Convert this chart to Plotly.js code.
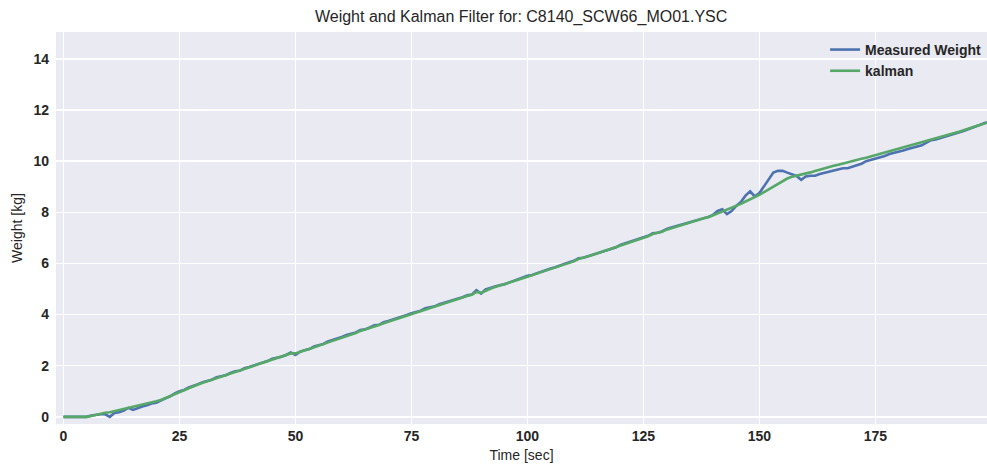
<!DOCTYPE html>
<html>
<head>
<meta charset="utf-8">
<script src="https://cdn.plot.ly/plotly-3.0.1.min.js"></script>
<style>html,body{margin:0;padding:0;background:#fff;}#chart{width:987px;height:465px;}</style>
</head>
<body>
<div id="chart"></div>
<script>
const timeSec = Array.from({length: 200}, (_, i) => i);

const measuredWeight = [
  0, 0, 0, 0, 0, 0, 0.05, 0.08, 0.10, 0.10,
  0.00, 0.15, 0.18, 0.25, 0.35, 0.27, 0.35, 0.40, 0.45, 0.52,
  0.55, 0.65, 0.72, 0.80, 0.92, 1.00, 1.05, 1.15, 1.23, 1.28,
  1.35, 1.40, 1.45, 1.55, 1.58, 1.63, 1.72, 1.78, 1.80, 1.90,
  1.95, 2.00, 2.08, 2.10, 2.18, 2.27, 2.30, 2.35, 2.42, 2.52,
  2.42, 2.55, 2.60, 2.65, 2.75, 2.80, 2.85, 2.95, 3.00, 3.05,
  3.12, 3.20, 3.25, 3.30, 3.40, 3.42, 3.50, 3.58, 3.60, 3.70,
  3.75, 3.80, 3.88, 3.92, 3.98, 4.05, 4.10, 4.15, 4.25, 4.28,
  4.32, 4.40, 4.45, 4.50, 4.58, 4.62, 4.68, 4.75, 4.78, 4.95,
  4.82, 4.98, 5.05, 5.10, 5.15, 5.18, 5.25, 5.32, 5.38, 5.45,
  5.52, 5.55, 5.62, 5.68, 5.75, 5.80, 5.85, 5.92, 6.00, 6.05,
  6.10, 6.20, 6.22, 6.28, 6.35, 6.40, 6.45, 6.52, 6.58, 6.62,
  6.72, 6.78, 6.82, 6.90, 6.95, 7.00, 7.08, 7.18, 7.20, 7.25,
  7.35, 7.40, 7.45, 7.52, 7.55, 7.62, 7.68, 7.72, 7.78, 7.82,
  7.90, 8.05, 8.12, 7.93, 8.05, 8.25, 8.40, 8.65, 8.82, 8.62,
  8.75, 9.00, 9.27, 9.55, 9.62, 9.62, 9.55, 9.47, 9.42, 9.27,
  9.40, 9.43, 9.43, 9.50, 9.55, 9.60, 9.65, 9.68, 9.72, 9.72,
  9.78, 9.85, 9.90, 10.00, 10.05, 10.08, 10.12, 10.20, 10.28, 10.32,
  10.38, 10.42, 10.47, 10.52, 10.58, 10.62, 10.72, 10.82, 10.85, 10.90,
  10.95, 11.00, 11.08, 11.13, 11.18, 11.25, 11.30, 11.38, 11.45, 11.52
];

const kalmanWeight = [
  0, 0, 0, 0, 0, 0, 0.03, 0.08, 0.12, 0.16,
  0.18, 0.22, 0.26, 0.31, 0.37, 0.40, 0.44, 0.48, 0.52, 0.56,
  0.61, 0.66, 0.73, 0.80, 0.89, 0.97, 1.04, 1.12, 1.20, 1.26,
  1.33, 1.39, 1.45, 1.52, 1.58, 1.64, 1.71, 1.77, 1.82, 1.89,
  1.95, 2.00, 2.07, 2.11, 2.18, 2.25, 2.30, 2.35, 2.42, 2.48,
  2.48, 2.55, 2.60, 2.65, 2.72, 2.78, 2.83, 2.91, 2.97, 3.03,
  3.09, 3.16, 3.22, 3.28, 3.36, 3.41, 3.47, 3.54, 3.59, 3.66,
  3.72, 3.78, 3.85, 3.90, 3.96, 4.02, 4.08, 4.13, 4.21, 4.26,
  4.31, 4.38, 4.43, 4.49, 4.56, 4.61, 4.67, 4.73, 4.77, 4.88,
  4.85, 4.94, 5.01, 5.08, 5.13, 5.17, 5.23, 5.30, 5.36, 5.43,
  5.49, 5.54, 5.60, 5.66, 5.73, 5.78, 5.84, 5.90, 5.97, 6.03,
  6.08, 6.17, 6.21, 6.27, 6.33, 6.39, 6.44, 6.51, 6.57, 6.61,
  6.69, 6.76, 6.81, 6.88, 6.94, 6.99, 7.06, 7.15, 7.19, 7.24,
  7.32, 7.38, 7.44, 7.50, 7.55, 7.61, 7.67, 7.71, 7.77, 7.81,
  7.88, 7.97, 8.04, 8.10, 8.17, 8.25, 8.33, 8.42, 8.50, 8.59,
  8.68, 8.79, 8.90, 9.02, 9.13, 9.24, 9.32, 9.39, 9.44, 9.48,
  9.52, 9.56, 9.61, 9.67, 9.72, 9.77, 9.82, 9.86, 9.91, 9.95,
  10.00, 10.04, 10.09, 10.13, 10.18, 10.22, 10.27, 10.32, 10.37, 10.42,
  10.47, 10.52, 10.57, 10.62, 10.67, 10.72, 10.78, 10.84, 10.89, 10.94,
  10.99, 11.04, 11.10, 11.15, 11.21, 11.27, 11.32, 11.38, 11.44, 11.50
];

const xTicks = [0, 25, 50, 75, 100, 125, 150, 175];
const yTicks = [0, 2, 4, 6, 8, 10, 12, 14];

const FONT = '"Liberation Sans", Arial, sans-serif';
const TXT = '#262626';

const traces = [
  {x: timeSec, y: measuredWeight, name: 'Measured Weight', type: 'scatter', mode: 'lines',
   line: {color: '#4C72B0', width: 2.6}},
  {x: timeSec, y: kalmanWeight, name: 'kalman', type: 'scatter', mode: 'lines',
   line: {color: '#55A868', width: 2.6}}
];

const layout = {
  width: 987, height: 465,
  margin: {l: 56, r: 0, t: 32, b: 41, pad: 0},
  paper_bgcolor: '#ffffff',
  plot_bgcolor: '#EAEAF2',
  font: {family: FONT, color: TXT},
  title: {text: 'Weight and Kalman Filter for: C8140_SCW66_MO01.YSC',
          font: {family: FONT, size: 16, color: TXT}, x: 0.528, xanchor: 'center', y: 0.965, yanchor: 'middle'},
  xaxis: {
    range: [-1.6, 199.05], tickvals: xTicks, ticktext: xTicks.map(String),
    showgrid: true, gridcolor: '#ffffff', gridwidth: 1.4, zeroline: false, showline: false,
    ticks: '', ticklabelstandoff: 2, tickfont: {family: FONT, size: 14, color: TXT, weight: 'bold'},
    title: {text: 'Time [sec]', font: {family: FONT, size: 14, color: TXT}, standoff: 7}
  },
  yaxis: {
    range: [-0.28, 15.05], tickvals: yTicks, ticktext: yTicks.map(String),
    showgrid: true, gridcolor: '#ffffff', gridwidth: 1.4, zeroline: false, showline: false,
    ticks: '', ticklabelstandoff: 6, tickfont: {family: FONT, size: 14, color: TXT, weight: 'bold'},
    title: {text: 'Weight [kg]', font: {family: FONT, size: 14, color: TXT}, standoff: 7}
  },
  legend: {
    x: 0.999, xanchor: 'right', y: 0.995, yanchor: 'top',
    bgcolor: 'rgba(0,0,0,0)', borderwidth: 0,
    font: {family: FONT, size: 14, color: TXT, weight: 'bold'},
    itemwidth: 30, tracegroupgap: 0
  },
  showlegend: true
};

Plotly.newPlot('chart', traces, layout, {displayModeBar: false, staticPlot: true});
</script>
</body>
</html>
